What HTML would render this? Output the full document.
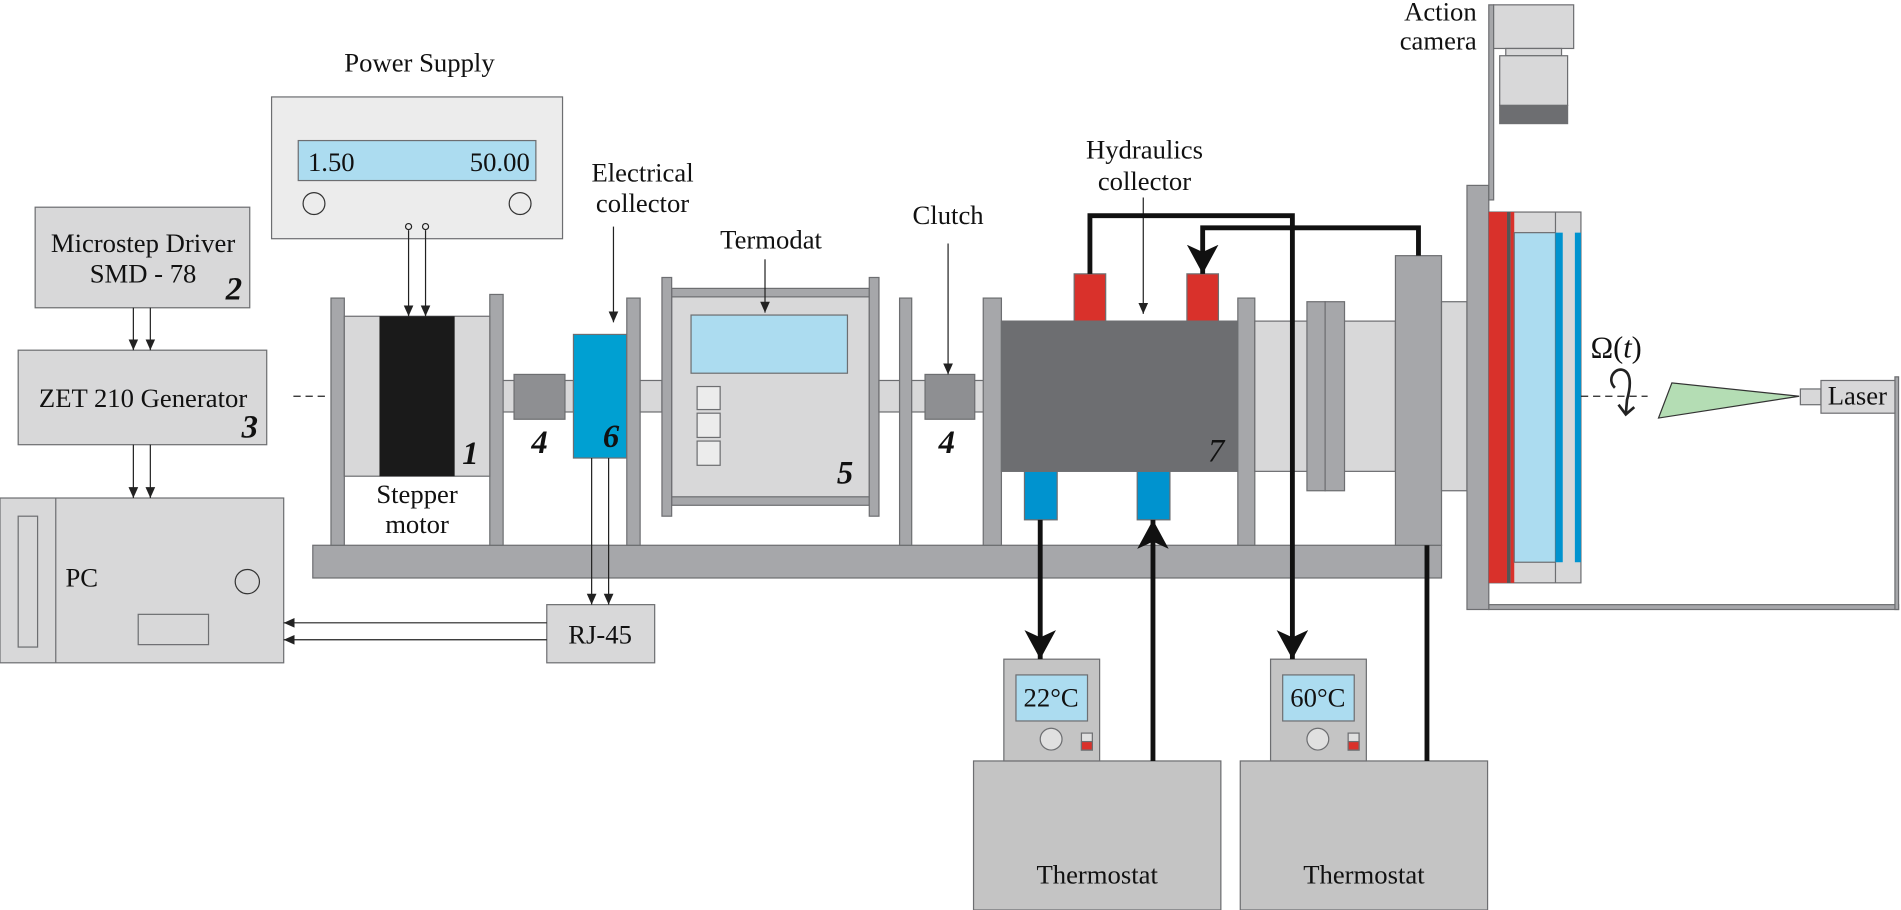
<!DOCTYPE html>
<html><head><meta charset="utf-8"><style>html,body{margin:0;padding:0;background:#fff}svg{display:block}</style></head>
<body>
<svg width="1901" height="910" viewBox="0 0 1568 751" preserveAspectRatio="none" xmlns="http://www.w3.org/2000/svg" font-family="Liberation Serif, serif" font-size="22">
<defs>
<marker id="a" markerWidth="10" markerHeight="10" refX="9" refY="5" orient="auto" markerUnits="userSpaceOnUse"><path d="M0,1 L9,5 L0,9 z" fill="#222"/></marker>
<marker id="b" markerWidth="24" markerHeight="26" refX="24" refY="13" orient="auto" markerUnits="userSpaceOnUse"><path d="M0,0 L24,13 L0,26 L6,13 z" fill="#111"/></marker>
</defs>
<g stroke="#6d6e71" stroke-width="1">
<rect x="224" y="80" width="240" height="117" fill="#ececec"/>
<rect x="246" y="116" width="196" height="33" fill="#acdcf0"/>
<circle cx="259" cy="168" r="9" fill="none" stroke="#333"/>
<circle cx="429" cy="168" r="9" fill="none" stroke="#333"/>
<rect x="29" y="171" width="177" height="83" fill="#d8d8d9"/>
<rect x="15" y="289" width="205" height="78" fill="#d8d8d9"/>
<rect x="0" y="411" width="234" height="136" fill="#d8d8d9"/>
<line x1="46" y1="411" x2="46" y2="547"/>
<rect x="15" y="426" width="16" height="108" fill="#d8d8d9"/>
<circle cx="204" cy="480" r="10" fill="none" stroke="#333"/>
<rect x="114" y="507" width="58" height="25" fill="none"/>
<rect x="451" y="499" width="89" height="48" fill="#d8d8d9"/>
<rect x="258" y="450" width="931" height="27" fill="#a6a7aa"/>
<rect x="273" y="246" width="11" height="204" fill="#a6a7aa"/>
<rect x="404" y="243" width="11" height="207" fill="#a6a7aa"/>
<rect x="284" y="261" width="120" height="132" fill="#d8d8d9"/>
<rect x="313" y="261" width="62" height="132" fill="#1a1a1a" stroke="none"/>
<rect x="415" y="314" width="58" height="26" fill="#d8d8d9"/>
<rect x="424" y="309" width="42" height="37" fill="#8e8f92"/>
<rect x="473" y="276" width="44" height="102" fill="#00a0d2"/>
<rect x="517" y="246" width="11" height="204" fill="#a6a7aa"/>
<rect x="528" y="314" width="18" height="26" fill="#d8d8d9"/>
<rect x="554" y="238" width="163" height="179" fill="#a6a7aa"/>
<rect x="554" y="245" width="163" height="165" fill="#d8d8d9"/>
<rect x="546" y="229" width="8" height="197" fill="#a6a7aa"/>
<rect x="717" y="229" width="8" height="197" fill="#a6a7aa"/>
<rect x="570" y="260" width="129" height="48" fill="#acdcf0"/>
<rect x="575" y="319" width="19" height="19" fill="#ececec"/>
<rect x="575" y="341" width="19" height="20" fill="#ececec"/>
<rect x="575" y="364" width="19" height="20" fill="#ececec"/>
<rect x="725" y="314" width="17" height="26" fill="#d8d8d9"/>
<rect x="742" y="246" width="10" height="204" fill="#a6a7aa"/>
<rect x="752" y="314" width="60" height="26" fill="#d8d8d9"/>
<rect x="763" y="309" width="41" height="37" fill="#8e8f92"/>
<rect x="811" y="246" width="15" height="204" fill="#a6a7aa"/>
<rect x="826" y="265" width="195" height="124" fill="#6d6e71"/>
<rect x="886" y="226" width="26" height="39" fill="#d9312b"/>
<rect x="979" y="226" width="26" height="39" fill="#d9312b"/>
<rect x="845" y="389" width="27" height="40" fill="#0093cf"/>
<rect x="938" y="389" width="27" height="40" fill="#0093cf"/>
<rect x="1021" y="246" width="14" height="204" fill="#a6a7aa"/>
<rect x="1035" y="265" width="116" height="124" fill="#d8d8d9"/>
<rect x="1078" y="249" width="15" height="156" fill="#a6a7aa"/>
<rect x="1093" y="249" width="16" height="156" fill="#a6a7aa"/>
<rect x="1151" y="211" width="38" height="239" fill="#a6a7aa"/>
<rect x="1189" y="249" width="21" height="156" fill="#d8d8d9"/>
<rect x="1228" y="499" width="338" height="4" fill="#a6a7aa"/>
<rect x="1563" y="311" width="3" height="192" fill="#a6a7aa"/>
<rect x="1210" y="153" width="18" height="350" fill="#a6a7aa"/>
<rect x="1228" y="4" width="4" height="161" fill="#a6a7aa"/>
<rect x="1232" y="4" width="66" height="36" fill="#d8d8d9"/>
<rect x="1242" y="40" width="46" height="6" fill="#d8d8d9"/>
<rect x="1237" y="46" width="56" height="41" fill="#d8d8d9"/>
<rect x="1237" y="87" width="56" height="15" fill="#6d6e71"/>
<rect x="1228" y="175" width="76" height="306" fill="#d8d8d9"/>
<rect x="1228" y="175" width="15" height="306" fill="#d9312b" stroke="none"/>
<rect x="1243" y="175" width="3" height="306" fill="#555" stroke="none"/>
<rect x="1246" y="175" width="3" height="306" fill="#d9312b" stroke="none"/>
<rect x="1249" y="192" width="34" height="272" fill="#acdcf0"/>
<rect x="1283" y="192" width="6" height="272" fill="#0093cf" stroke="none"/>
<rect x="1299" y="192" width="5" height="272" fill="#0093cf" stroke="none"/>
<line x1="1283" y1="175" x2="1283" y2="192"/><line x1="1283" y1="464" x2="1283" y2="481"/>
<polygon points="1379,316 1368,345 1484,327" fill="#b4ddb4" stroke="#333"/>
<rect x="1485" y="321" width="17" height="13" fill="#d8d8d9"/>
<rect x="1502" y="314" width="61" height="27" fill="#d8d8d9"/>
<rect x="803" y="628" width="204" height="123" fill="#c4c4c4"/>
<rect x="1023" y="628" width="204" height="123" fill="#c4c4c4"/>
<rect x="828" y="544" width="79" height="84" fill="#c4c4c4"/>
<rect x="1048" y="544" width="79" height="84" fill="#c4c4c4"/>
<rect x="838" y="557" width="59" height="38" fill="#acdcf0"/>
<rect x="1058" y="557" width="59" height="38" fill="#acdcf0"/>
<circle cx="867" cy="610" r="9" fill="#e0e0e0"/>
<circle cx="1087" cy="610" r="9" fill="#e0e0e0"/>
<rect x="892" y="605" width="9" height="14" fill="#e0e0e0"/><rect x="892" y="612" width="9" height="7" fill="#d9312b"/>
<rect x="1112" y="605" width="9" height="14" fill="#e0e0e0"/><rect x="1112" y="612" width="9" height="7" fill="#d9312b"/>
</g>
<g stroke="#222" stroke-width="1" fill="none">
<circle cx="337" cy="187" r="2.5"/><circle cx="351" cy="187" r="2.5"/>
<line x1="337" y1="190" x2="337" y2="261" marker-end="url(#a)"/>
<line x1="351" y1="190" x2="351" y2="261" marker-end="url(#a)"/>
<line x1="110" y1="254" x2="110" y2="289" marker-end="url(#a)"/>
<line x1="124" y1="254" x2="124" y2="289" marker-end="url(#a)"/>
<line x1="110" y1="367" x2="110" y2="411" marker-end="url(#a)"/>
<line x1="124" y1="367" x2="124" y2="411" marker-end="url(#a)"/>
<line x1="488" y1="378" x2="488" y2="499" marker-end="url(#a)"/>
<line x1="502" y1="378" x2="502" y2="499" marker-end="url(#a)"/>
<line x1="451" y1="514" x2="234" y2="514" marker-end="url(#a)"/>
<line x1="451" y1="528" x2="234" y2="528" marker-end="url(#a)"/>
<line x1="506" y1="187" x2="506" y2="266" marker-end="url(#a)"/>
<line x1="631" y1="214" x2="631" y2="258" marker-end="url(#a)"/>
<line x1="782" y1="201" x2="782" y2="309" marker-end="url(#a)"/>
<line x1="943" y1="163" x2="943" y2="259" marker-end="url(#a)"/>
<line x1="242" y1="327" x2="272" y2="327" stroke-dasharray="6,4"/>
<line x1="1304" y1="327" x2="1359" y2="327" stroke-dasharray="6,4"/>
<path d="M1332,320 C1326,314 1330,305 1337,305 C1345,306 1346,316 1342,330 L1341,342" stroke-width="2.2"/>
<path d="M1335,334 L1341,342 L1348,336" stroke-width="2.2"/>
</g>
<g stroke="#111" stroke-width="4" fill="none">
<path d="M899,226 V178 H1066 V544" marker-end="url(#b)"/>
<path d="M1170,211 V188 H992 V226" marker-end="url(#b)"/>
<path d="M858,429 V544" marker-end="url(#b)"/>
<path d="M951,628 V429" marker-end="url(#b)"/>
<path d="M1177,450 V628"/>
</g>
<g fill="#111">
<text x="346" y="59" text-anchor="middle">Power Supply</text>
<text x="254" y="141">1.50</text>
<text x="437" y="141" text-anchor="end">50.00</text>
<text x="118" y="208" text-anchor="middle">Microstep Driver</text>
<text x="118" y="233" text-anchor="middle">SMD - 78</text>
<text x="118" y="336" text-anchor="middle">ZET 210 Generator</text>
<text x="54" y="484">PC</text>
<text x="495" y="531" text-anchor="middle">RJ-45</text>
<text x="344" y="415" text-anchor="middle">Stepper</text>
<text x="344" y="440" text-anchor="middle">motor</text>
<text x="530" y="150" text-anchor="middle">Electrical</text>
<text x="530" y="175" text-anchor="middle">collector</text>
<text x="636" y="205" text-anchor="middle">Termodat</text>
<text x="782" y="185" text-anchor="middle">Clutch</text>
<text x="944" y="131" text-anchor="middle">Hydraulics</text>
<text x="944" y="157" text-anchor="middle">collector</text>
<text x="1218" y="17" text-anchor="end">Action</text>
<text x="1218" y="41" text-anchor="end">camera</text>
<text x="1532" y="334" text-anchor="middle">Laser</text>
<text x="867" y="583" text-anchor="middle">22°C</text>
<text x="1087" y="583" text-anchor="middle">60°C</text>
<text x="905" y="729" text-anchor="middle">Thermostat</text>
<text x="1125" y="729" text-anchor="middle">Thermostat</text>
<text x="1312" y="295" font-size="25">Ω(<tspan font-style="italic">t</tspan>)</text>
<g font-style="italic" font-weight="bold" font-size="27">
<text x="193" y="247" text-anchor="middle">2</text>
<text x="206" y="361" text-anchor="middle">3</text>
<text x="388" y="383" text-anchor="middle">1</text>
<text x="445" y="374" text-anchor="middle">4</text>
<text x="504" y="369" text-anchor="middle">6</text>
<text x="697" y="399" text-anchor="middle">5</text>
<text x="781" y="374" text-anchor="middle">4</text>
</g>
<text x="1003" y="381" font-style="italic" font-size="27" text-anchor="middle">7</text>
</g>
</svg>
</body></html>
